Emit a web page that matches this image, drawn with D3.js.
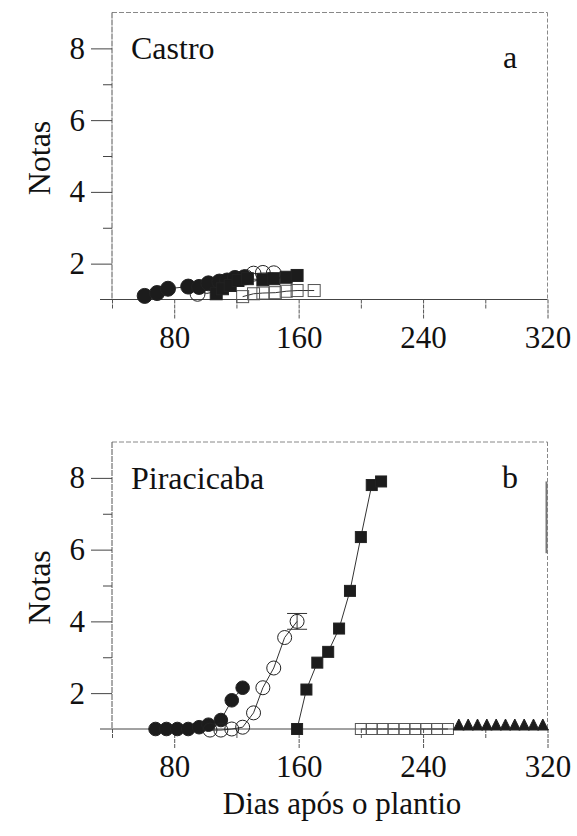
<!DOCTYPE html>
<html>
<head>
<meta charset="utf-8">
<script src="https://cdn.jsdelivr.net/npm/d3@7"></script>
<style>
  html, body { margin: 0; padding: 0; background: #fff; }
  svg { display: block; }
  text { font-family: 'Liberation Serif', 'Times New Roman', serif; fill: #111; }
</style>
</head>
<body>
<svg id="chart" width="577" height="836"></svg>
<script>
// ---------------- DATA ----------------
const xMajorTicks = [80, 160, 240, 320];
const xMinorTicks = [40, 120, 200, 280];
const yMajorTicks = [2, 4, 6, 8];
const yMinorTicks = [3, 5, 7];
const yLabel = "Notas";
const xLabel = "Dias após o plantio";
const panelNames = ["Castro", "Piracicaba"];
const panelLetters = ["a", "b"];

// Panel a — Castro
const aFilledCircleDays = [61, 69, 76, 89, 96, 102, 109, 114, 119, 125];
const aFilledCircleVals = [1.1, 1.18, 1.3, 1.36, 1.35, 1.45, 1.5, 1.53, 1.6, 1.62];
const aOpenCircleDays = [95, 101, 108, 114, 120, 126, 131, 137, 144];
const aOpenCircleVals = [1.16, 1.38, 1.45, 1.5, 1.58, 1.62, 1.72, 1.74, 1.73];
const aFilledSquareDays = [107, 111, 116, 121, 127, 137, 144, 152, 159];
const aFilledSquareVals = [1.16, 1.3, 1.39, 1.53, 1.58, 1.55, 1.58, 1.62, 1.67];
const aOpenSquareDays = [124, 131, 137, 145, 152, 159, 170];
const aOpenSquareVals = [1.08, 1.16, 1.18, 1.19, 1.23, 1.25, 1.25];

// Panel b — Piracicaba
const bFilledCircleDays = [68, 75, 82, 89, 96, 102, 110, 117, 124];
const bFilledCircleVals = [1.0, 1.0, 1.0, 1.0, 1.05, 1.12, 1.25, 1.8, 2.15];
const bOpenCircleDays = [103, 110, 117, 124, 131, 137, 144, 151, 159];
const bOpenCircleVals = [0.97, 0.97, 1.0, 1.05, 1.45, 2.15, 2.7, 3.55, 4.0];
const bOpenCircleErr  = [0, 0, 0, 0, 0, 0, 0, 0, 0.22];
const bFilledSquareDays = [159, 165, 172, 179, 186, 193, 200, 207, 213];
const bFilledSquareVals = [1.0, 2.1, 2.85, 3.15, 3.8, 4.85, 6.35, 7.8, 7.9];
const bOpenSquareDays = [200, 207, 214, 221, 228, 235, 242, 249, 256];
const bOpenSquareVals = [1, 1, 1, 1, 1, 1, 1, 1, 1];
const bTriangleDays = [263, 269, 275, 281, 287, 293, 299, 305, 311, 317];
const bTriangleVals = [1, 1, 1, 1, 1, 1, 1, 1, 1, 1];

// --------------- BUILD ----------------
const zip = (d, v, e) => d.map((x, i) => ({ x, y: v[i], e: e ? e[i] : 0 }));

const panels = [
  {
    top: 12.5, bottom: 299.5, name: panelNames[0], letter: panelLetters[0],
    series: [
      { type: "ocircle", r: 7.5, data: zip(aOpenCircleDays, aOpenCircleVals) },
      { type: "osquare", s: 12, data: zip(aOpenSquareDays, aOpenSquareVals) },
      { type: "fcircle", r: 7.5, data: zip(aFilledCircleDays, aFilledCircleVals) },
      { type: "fsquare", s: 12, data: zip(aFilledSquareDays, aFilledSquareVals) }
    ]
  },
  {
    top: 442, bottom: 729, name: panelNames[1], letter: panelLetters[1],
    series: [
      { type: "osquare", s: 11, data: zip(bOpenSquareDays, bOpenSquareVals) },
      { type: "triangle", s: 11, data: zip(bTriangleDays, bTriangleVals) },
      { type: "fcircle", r: 6.8, data: zip(bFilledCircleDays, bFilledCircleVals) },
      { type: "ocircle", r: 7, data: zip(bOpenCircleDays, bOpenCircleVals, bOpenCircleErr) },
      { type: "fsquare", s: 11, data: zip(bFilledSquareDays, bFilledSquareVals) }
    ]
  }
];

const svg = d3.select("#chart");
const x = d3.scaleLinear().domain([40, 320]).range([112, 547.5]);
const FONT = 31;

panels.forEach((p, pi) => {
  const y = d3.scaleLinear().domain([1, 9]).range([p.bottom, p.top]);
  const g = svg.append("g");

  // frame (top & right, dotted grey)
  g.append("line").attr("x1", x(40)).attr("x2", x(320)).attr("y1", y(9)).attr("y2", y(9))
    .attr("stroke", "#888").attr("stroke-width", 1).attr("stroke-dasharray", "5 2");
  g.append("line").attr("x1", x(320)).attr("x2", x(320)).attr("y1", y(9)).attr("y2", y(1))
    .attr("stroke", "#888").attr("stroke-width", 1).attr("stroke-dasharray", "4 2");
  if (pi === 1) {
    g.append("line").attr("x1", x(320) - 1).attr("x2", x(320) - 1).attr("y1", y(7.9)).attr("y2", y(5.9))
      .attr("stroke", "#777").attr("stroke-width", 2);
  }

  // left axis line and bottom axis line
  g.append("line").attr("x1", x(40)).attr("x2", x(40)).attr("y1", y(9)).attr("y2", y(1))
    .attr("stroke", "#555").attr("stroke-width", 1).attr("stroke-dasharray", "6 1");
  g.append("line").attr("x1", x(40) - 12).attr("x2", x(320)).attr("y1", y(1)).attr("y2", y(1))
    .attr("stroke", "#444").attr("stroke-width", 1);

  // x axes (major with labels, minor without)
  const xAxisMaj = d3.axisBottom(x).tickValues(xMajorTicks).tickSize(20).tickPadding(6).tickFormat(d3.format("d"));
  const xAxisMin = d3.axisBottom(x).tickValues(xMinorTicks).tickSize(10).tickFormat("");
  const gx = g.append("g").attr("transform", `translate(0,${y(1)})`).call(xAxisMaj);
  const gx2 = g.append("g").attr("transform", `translate(0,${y(1)})`).call(xAxisMin);
  [gx, gx2].forEach(a => {
    a.select(".domain").remove();
    a.selectAll("line").attr("stroke", "#555").attr("stroke-dasharray", "4 1");
  });
  gx.selectAll("text").attr("font-size", FONT).attr("font-family", "'Liberation Serif', serif").attr("fill", "#111");

  // y axes
  const yAxisMaj = d3.axisLeft(y).tickValues(yMajorTicks).tickSize(21).tickPadding(6).tickFormat(d3.format("d"));
  const yAxisMin = d3.axisLeft(y).tickValues(yMinorTicks).tickSize(9).tickFormat("");
  const gy = g.append("g").attr("transform", `translate(${x(40)},0)`).call(yAxisMaj);
  const gy2 = g.append("g").attr("transform", `translate(${x(40)},0)`).call(yAxisMin);
  [gy, gy2].forEach(a => {
    a.select(".domain").remove();
    a.selectAll("line").attr("stroke", "#444");
  });
  gy.selectAll("text").attr("font-size", FONT).attr("font-family", "'Liberation Serif', serif").attr("fill", "#111");

  // y label
  const cy = (p.top + p.bottom) / 2 + 2;
  g.append("text").attr("transform", `translate(50,${cy}) rotate(-90)`)
    .attr("text-anchor", "middle").attr("font-size", 32).text(yLabel);

  // panel name and letter
  g.append("text").attr("x", 131).attr("y", y(8) + 11).attr("font-size", 32).text(p.name);
  g.append("text").attr("x", 510).attr("y", y(8) + (pi === 0 ? 20 : 10)).attr("text-anchor", "middle")
    .attr("font-size", 32).text(p.letter);

  // series
  const line = d3.line().x(d => x(d.x)).y(d => y(d.y));
  p.series.forEach(s => {
    g.append("path").attr("d", line(s.data)).attr("fill", "none")
      .attr("stroke", "#333").attr("stroke-width", 1);
  });
  p.series.forEach(s => {
    const sg = g.append("g");
    s.data.filter(d => d.e > 0).forEach(d => {
      sg.append("line").attr("x1", x(d.x)).attr("x2", x(d.x)).attr("y1", y(d.y - d.e)).attr("y2", y(d.y + d.e))
        .attr("stroke", "#333");
      [d.y - d.e, d.y + d.e].forEach(v => {
        sg.append("line").attr("x1", x(d.x) - 10).attr("x2", x(d.x) + 10).attr("y1", y(v)).attr("y2", y(v))
          .attr("stroke", "#333");
      });
    });
    if (s.type === "fcircle" || s.type === "ocircle") {
      sg.selectAll("circle").data(s.data).join("circle")
        .attr("cx", d => x(d.x)).attr("cy", d => y(d.y)).attr("r", s.r)
        .attr("fill", s.type === "fcircle" ? "#1c1c1c" : "#fff")
        .attr("fill-opacity", s.type === "fcircle" ? 1 : 0.0)
        .attr("stroke", "#222").attr("stroke-width", 1);
    } else if (s.type === "fsquare" || s.type === "osquare") {
      sg.selectAll("rect").data(s.data).join("rect")
        .attr("x", d => x(d.x) - s.s / 2).attr("y", d => y(d.y) - s.s / 2)
        .attr("width", s.s).attr("height", s.s)
        .attr("fill", s.type === "fsquare" ? "#1c1c1c" : "none")
        .attr("stroke", s.type === "fsquare" ? "#222" : "#555").attr("stroke-width", 1);
    } else if (s.type === "triangle") {
      sg.selectAll("path").data(s.data).join("path")
        .attr("d", d => {
          const cx = x(d.x), cy = y(d.y), h = s.s;
          return `M${cx - h / 2},${cy + 1}L${cx},${cy - h + 1}L${cx + h / 2},${cy + 1}Z`;
        })
        .attr("fill", "#1c1c1c").attr("stroke", "#222");
    }
  });
});

// x label
svg.append("text").attr("x", 342).attr("y", 814).attr("text-anchor", "middle")
  .attr("font-size", FONT).text(xLabel);
</script>
</body>
</html>
